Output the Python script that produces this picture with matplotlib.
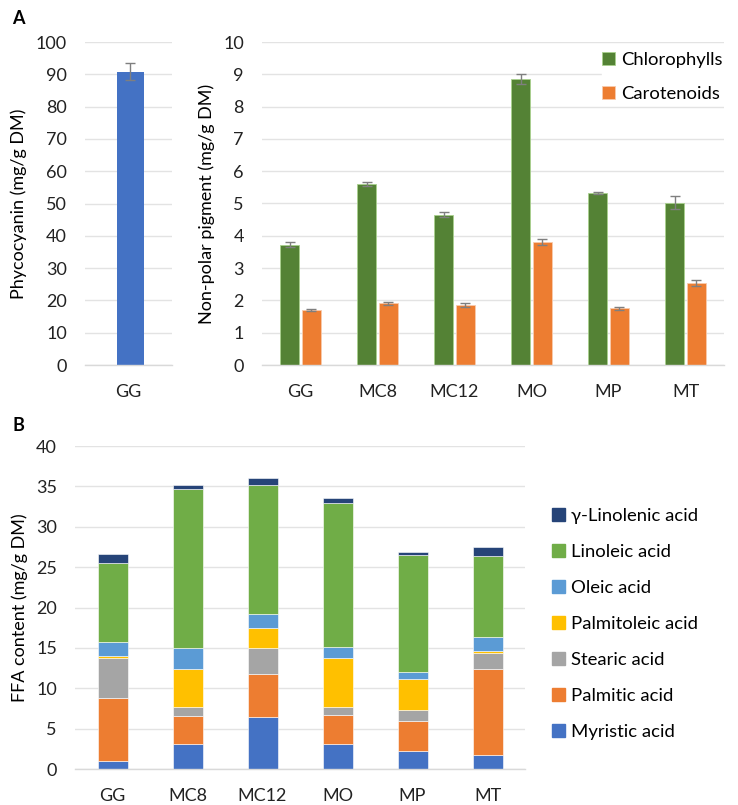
import matplotlib
matplotlib.use("Agg")
import matplotlib.pyplot as plt
import numpy as np
from matplotlib.patches import Patch

plt.rcParams['font.family'] = ['Lato', 'DejaVu Sans']

# ---- data ----
pc_cats = ["GG"]
pc_vals = [90.8]
pc_err = [2.6]

cats = ["GG", "MC8", "MC12", "MO", "MP", "MT"]
chl_vals = [3.72, 5.60, 4.65, 8.86, 5.33, 5.02]
chl_err = [0.08, 0.06, 0.08, 0.15, 0.04, 0.20]
car_vals = [1.70, 1.91, 1.86, 3.81, 1.76, 2.54]
car_err = [0.04, 0.05, 0.05, 0.10, 0.05, 0.10]

ffa_names = ["Myristic acid", "Palmitic acid", "Stearic acid", "Palmitoleic acid",
             "Oleic acid", "Linoleic acid", "\u03b3-Linolenic acid"]
myristic = [0.99, 3.14, 6.48, 3.14, 2.23, 1.69]
palmitic = [7.85, 3.46, 5.33, 3.55, 3.76, 10.66]
stearic = [4.95, 1.08, 3.18, 0.99, 1.32, 2.06]
palmitoleic = [0.25, 4.75, 2.48, 6.11, 3.79, 0.25]
oleic = [1.65, 2.56, 1.73, 1.36, 0.91, 1.65]
linoleic = [9.81, 19.73, 15.94, 17.75, 14.54, 10.11]
gla = [1.10, 0.50, 0.90, 0.70, 0.29, 1.12]

ffa_colors = ["#4472C4", "#ED7D31", "#A5A5A5", "#FFC000", "#5B9BD5", "#70AD47", "#264478"]

W, H = 738, 805
fig = plt.figure(figsize=(W / 100, H / 100), dpi=100)

def ax_px(x0, y0, x1, y1):
    return fig.add_axes([x0 / W, 1 - y1 / H, (x1 - x0) / W, (y1 - y0) / H])

def style(ax):
    for s in ["top", "right", "left"]:
        ax.spines[s].set_visible(False)
    ax.spines["bottom"].set_color("#D9D9D9")
    ax.spines["bottom"].set_linewidth(1.0)
    ax.yaxis.grid(True, color="#E3E3E3", linewidth=1.0)
    ax.set_axisbelow(True)
    ax.tick_params(axis="both", length=0, labelsize=13, colors="#222222")
    ax.tick_params(axis="x", pad=14)
    ax.tick_params(axis="y", pad=13)

err_kw = dict(ecolor="#7F7F7F", elinewidth=1.0, capsize=3.5, capthick=1.0)

# Panel A left
ax1 = ax_px(85, 42, 172, 365)
ax1.bar(np.arange(len(pc_cats)) + 0.02, pc_vals, width=0.31, color="#4472C4",
        yerr=pc_err, error_kw=err_kw)
ax1.set_xlim(-0.5, 0.5)
ax1.set_ylim(0, 100)
ax1.set_yticks(np.arange(0, 101, 10))
ax1.set_xticks([0])
ax1.set_xticklabels(pc_cats)
ax1.set_ylabel("Phycocyanin (mg/g DM)", fontsize=13, labelpad=6)
style(ax1)

# Panel A right
ax2 = ax_px(262, 42, 724, 365)
x = np.arange(len(cats))
bw = 0.235
ax2.bar(x - bw / 2 - 0.025, chl_vals, width=bw, color="#548235", edgecolor="#A9D18E",
        linewidth=0.6, yerr=chl_err, error_kw=err_kw, label="Chlorophylls")
ax2.bar(x + bw / 2 + 0.025, car_vals, width=bw, color="#ED7D31", edgecolor="#F8CBAD",
        linewidth=0.6, yerr=car_err, error_kw=err_kw, label="Carotenoids")
ax2.set_xlim(-0.5, len(cats) - 0.5)
ax2.set_ylim(0, 10)
ax2.set_yticks(np.arange(0, 11, 1))
ax2.set_xticks(x)
ax2.set_xticklabels(cats)
ax2.set_ylabel("Non-polar pigment (mg/g DM)", fontsize=13, labelpad=6)
style(ax2)
leg = fig.legend(loc="upper left", bbox_to_anchor=(602 / W, 1 - 52 / H), frameon=True, fontsize=13.3,
                 handles=ax2.get_legend_handles_labels()[0],
                 handlelength=0.7, handleheight=0.7, handletextpad=0.35, labelspacing=0.95,
                 borderpad=0.0, borderaxespad=0.0, fancybox=False)
leg.get_frame().set_edgecolor("white")
leg.get_frame().set_facecolor("white")
leg.get_frame().set_alpha(1)

# Panel B
ax3 = ax_px(75, 446, 525, 769)
series = [myristic, palmitic, stearic, palmitoleic, oleic, linoleic, gla]
bottom = np.zeros(len(cats))
handles = []
for name, vals, col in zip(ffa_names, series, ffa_colors):
    ax3.bar(x, vals, width=0.4, bottom=bottom, color=col, edgecolor="white",
            linewidth=0.4, label=name)
    bottom = bottom + np.array(vals)
    handles.append(Patch(facecolor=col, edgecolor=col, label=name))
ax3.set_xlim(-0.5, len(cats) - 0.5)
ax3.set_ylim(0, 40)
ax3.set_yticks(np.arange(0, 41, 5))
ax3.set_xticks(x)
ax3.set_xticklabels(cats)
ax3.set_ylabel("FFA content (mg/g DM)", fontsize=13, labelpad=6)
style(ax3)
fig.legend(handles=handles[::-1], loc="upper left", bbox_to_anchor=(552 / W, 1 - 508 / H),
           frameon=False, fontsize=13.3, handlelength=0.7, handleheight=0.7,
           handletextpad=0.35, labelspacing=1.08, borderpad=0.0, borderaxespad=0.0)

fig.text(12 / W, 1 - 18 / H, "A", fontsize=13, fontweight="bold", va="center", ha="left")
fig.text(12 / W, 1 - 425 / H, "B", fontsize=13, fontweight="bold", va="center", ha="left")

fig.savefig("out.png", dpi=100, facecolor="white")
